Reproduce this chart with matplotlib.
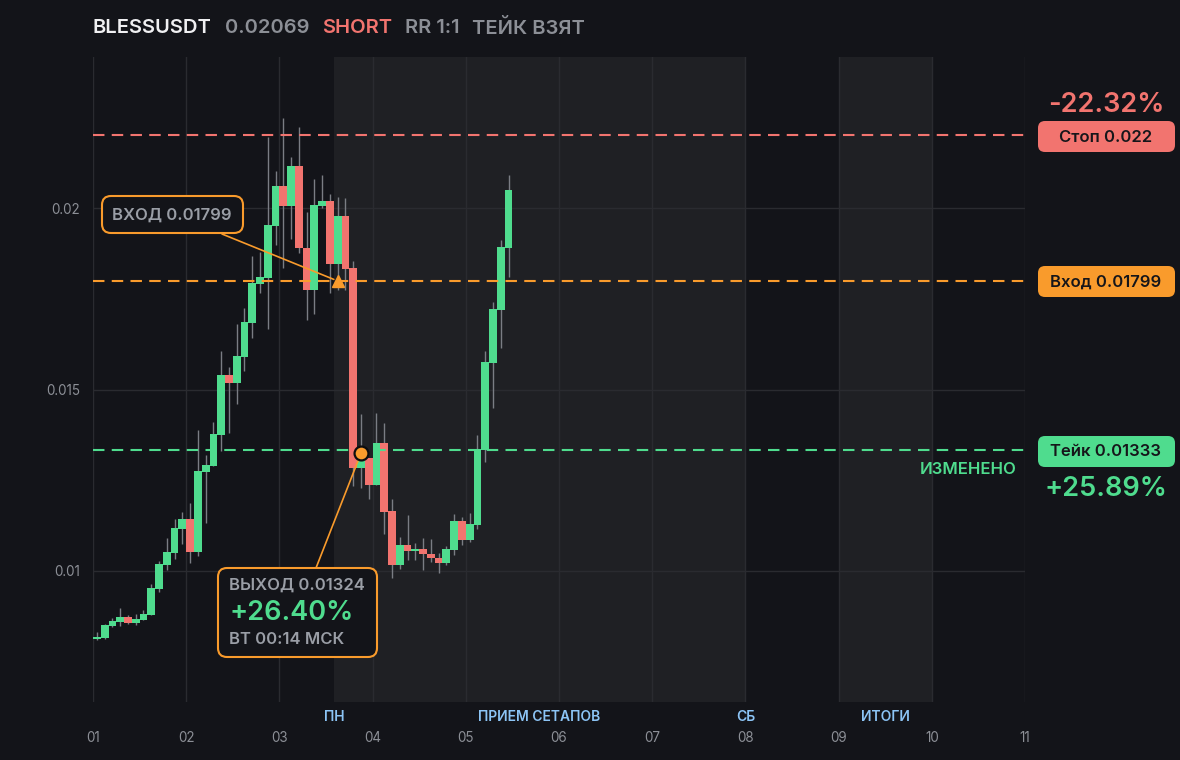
import numpy as np
import matplotlib.pyplot as plt
import matplotlib.transforms as mtransforms
from matplotlib.patches import FancyBboxPatch

plt.rcParams['font.family'] = ['Inter', 'DejaVu Sans']

# 2h candles, 12 per day, first day = 01
opens = [0.00813, 0.00815, 0.00849, 0.00860, 0.00873, 0.00858, 0.00866, 0.00880, 0.00951, 0.01017,
         0.01050, 0.01117, 0.01143, 0.01053, 0.01274, 0.01290, 0.01375, 0.01540, 0.01519, 0.01590,
         0.01684, 0.01792, 0.01808, 0.01951, 0.02061, 0.02006, 0.02116, 0.01891, 0.01775, 0.02006,
         0.02019, 0.01847, 0.01978, 0.01835, 0.01285, 0.01311, 0.01238, 0.01353, 0.01165, 0.01017,
         0.01072, 0.01056, 0.01061, 0.01048, 0.01037, 0.01023, 0.01059, 0.01138, 0.01086, 0.01128,
         0.01334, 0.01574, 0.01720, 0.01891]
highs = [0.00832, 0.00854, 0.00871, 0.00898, 0.00879, 0.00882, 0.00893, 0.00964, 0.01028, 0.01091,
         0.01143, 0.01163, 0.01187, 0.01388, 0.01320, 0.01411, 0.01607, 0.01563, 0.01680, 0.01725,
         0.01868, 0.01879, 0.02196, 0.02102, 0.02248, 0.02140, 0.02223, 0.01989, 0.02080, 0.02091,
         0.02039, 0.02030, 0.02028, 0.01854, 0.01433, 0.01311, 0.01435, 0.01408, 0.01199, 0.01095,
         0.01154, 0.01078, 0.01091, 0.01088, 0.01050, 0.01069, 0.01157, 0.01149, 0.01160, 0.01375,
         0.01607, 0.01741, 0.01912, 0.02091]
lows = [0.00810, 0.00813, 0.00846, 0.00849, 0.00855, 0.00852, 0.00864, 0.00880, 0.00943, 0.01004,
        0.01034, 0.01075, 0.01023, 0.01042, 0.01133, 0.01290, 0.01331, 0.01379, 0.01460, 0.01552,
        0.01643, 0.01767, 0.01668, 0.01898, 0.01836, 0.01915, 0.01877, 0.01691, 0.01709, 0.02000,
        0.01767, 0.01774, 0.01774, 0.01234, 0.01229, 0.01199, 0.01238, 0.01103, 0.00982, 0.01006,
        0.01031, 0.01031, 0.01004, 0.01026, 0.00995, 0.01017, 0.01045, 0.01072, 0.01081, 0.01117,
        0.01301, 0.01450, 0.01615, 0.01811]
closes = [0.00818, 0.00851, 0.00862, 0.00873, 0.00858, 0.00868, 0.00882, 0.00953, 0.01019, 0.01052,
          0.01118, 0.01143, 0.01053, 0.01276, 0.01292, 0.01377, 0.01540, 0.01519, 0.01592, 0.01686,
          0.01794, 0.01810, 0.01953, 0.02061, 0.02006, 0.02116, 0.01891, 0.01775, 0.02008, 0.02019,
          0.01847, 0.01978, 0.01833, 0.01285, 0.01311, 0.01238, 0.01353, 0.01163, 0.01017, 0.01072,
          0.01056, 0.01061, 0.01048, 0.01037, 0.01023, 0.01061, 0.01138, 0.01086, 0.01130, 0.01336,
          0.01576, 0.01722, 0.01893, 0.02050]

day_ticks = [1, 2, 3, 4, 5, 6, 7, 8, 9, 10, 11]
day_labels = ['01', '02', '03', '04', '05', '06', '07', '08', '09', '10', '11']
sessions = [(3 + 7 / 12, 8), (9, 10)]
session_labels = [('ПН', 3 + 7 / 12), ('ПРИЕМ СЕТАПОВ', 5.79), ('СБ', 8), ('ИТОГИ', 9.5)]

stop = 0.022
entry = 0.01799
take = 0.01333
exit_price = 0.01324
entry_x = 1 + 31.5 / 12
exit_x = 1 + 34.5 / 12

bg = '#131419'
shade = '#1f2024'
grid = '#2a2b30'
green = '#4fdc8e'
red = '#f2746f'
orange = '#f99b2c'
gray = '#8c8f96'

fig = plt.figure(figsize=(11.8, 7.6), dpi=100, facecolor=bg)
ax = fig.add_axes([93 / 1180, 58 / 760, 932 / 1180, 645 / 760])
ax.set_facecolor(bg)
# pixel coords, origin top-left
pix = mtransforms.Affine2D().scale(1 / 100, -1 / 100).translate(0, 7.6) + fig.dpi_scale_trans

ax.set_xlim(1, 11)
ax.set_ylim(0.006391, 0.02416)
for s in ax.spines.values():
    s.set_visible(False)

for a, b in sessions:
    ax.axvspan(a, b, color=shade, lw=0, zorder=0)

ax.set_yticks([0.01, 0.015, 0.02])
ax.set_yticklabels(['0.01', '0.015', '0.02'])
ax.set_xticks(day_ticks)
ax.set_xticklabels(day_labels)
ax.tick_params(axis='y', length=0, pad=9.4, labelcolor=gray, labelsize=9.7)
ax.tick_params(axis='x', length=0, pad=21, labelcolor=gray, labelsize=9.7)
ax.grid(True, color=grid, lw=1, zorder=0.5)
ax.set_axisbelow(True)

tr = mtransforms.blended_transform_factory(ax.transData, pix)
for lab, xv in session_labels:
    ax.text(xv, 717, lab, transform=tr, ha='center', va='center', color='#8cc4f5',
            fontsize=10, fontweight='semibold', clip_on=False)

o = np.array(opens)
h = np.array(highs)
l = np.array(lows)
c = np.array(closes)
xs = 1 + (np.arange(len(o)) + 0.5) / 12
cols = [green if cc >= oo else red for oo, cc in zip(o, c)]
ax.vlines(xs, l, h, color='#7a7d84', lw=1, zorder=2)
ax.bar(xs, np.abs(c - o), bottom=np.minimum(o, c), width=1 / 12, color=cols, lw=0, zorder=3)

dash = (0, (5.5, 3.5))
ax.axhline(stop, color=red, ls=dash, lw=1.5, zorder=4)
ax.axhline(entry, color=orange, ls=dash, lw=1.5, zorder=4)
ax.axhline(take, color=green, ls=dash, lw=1.5, zorder=4)

ax.plot(entry_x, entry, marker='^', ms=9, color=orange, zorder=7)
ax.plot(exit_x, exit_price, marker='o', ms=10, mfc=orange, mec='#0d0d0f', mew=1.6, zorder=7)

ax.annotate('', xy=(entry_x, entry), xytext=(222, 234), textcoords=pix,
            arrowprops=dict(arrowstyle='-', color=orange, lw=1.2, shrinkA=0, shrinkB=3), zorder=6)
ax.annotate('', xy=(exit_x, exit_price), xytext=(316, 568), textcoords=pix,
            arrowprops=dict(arrowstyle='-', color=orange, lw=1.2, shrinkA=0, shrinkB=5), zorder=6)

# title line
title_parts = [('BLESSUSDT', 93, '#f0f0f2'), ('0.02069', 225, gray), ('SHORT', 322, red),
               ('RR 1:1', 405, gray), ('ТЕЙК ВЗЯТ', 472, gray)]
for txt, xp, col in title_parts:
    fig.text(xp, 28, txt, transform=pix, ha='left', va='center', color=col,
             fontsize=14.5, fontweight='semibold')

# entry callout
fig.add_artist(FancyBboxPatch((102, 196), 141, 37, boxstyle='round,pad=0,rounding_size=9',
                              transform=pix, fc=bg, ec=orange, lw=1.5, zorder=5))
fig.text(112, 215, 'ВХОД 0.01799', transform=pix, ha='left', va='center', color='#9a9ea6',
         fontsize=12, fontweight='semibold', zorder=6)

# exit callout
fig.add_artist(FancyBboxPatch((218, 568), 159, 89, boxstyle='round,pad=0,rounding_size=9',
                              transform=pix, fc=bg, ec=orange, lw=1.5, zorder=5))
fig.text(229, 585, 'ВЫХОД 0.01324', transform=pix, ha='left', va='center', color='#9a9ea6',
         fontsize=12, fontweight='semibold', zorder=6)
fig.text(229, 613, '+26.40%', transform=pix, ha='left', va='center', color=green,
         fontsize=19.5, fontweight='semibold', zorder=6)
fig.text(229, 639, 'ВТ 00:14 МСК', transform=pix, ha='left', va='center', color='#9a9ea6',
         fontsize=12, fontweight='semibold', zorder=6)

# right side level tags
tags = [('Стоп 0.022', 121, red), ('Вход 0.01799', 266, orange), ('Тейк 0.01333', 436, green)]
for txt, yp, col in tags:
    fig.add_artist(FancyBboxPatch((1038, yp), 137, 31, boxstyle='round,pad=0,rounding_size=7',
                                  transform=pix, fc=col, ec='none', zorder=5))
    fig.text(1106, yp + 16, txt, transform=pix, ha='center', va='center', color='#16161a',
             fontsize=12, fontweight='semibold', zorder=6)

fig.text(1106, 105, '-22.32%', transform=pix, ha='center', va='center', color=red,
         fontsize=19.5, fontweight='semibold')
fig.text(1106, 489, '+25.89%', transform=pix, ha='center', va='center', color=green,
         fontsize=19.5, fontweight='semibold')
fig.text(1017, 470, 'ИЗМЕНЕНО', transform=pix, ha='right', va='center', color=green,
         fontsize=12, fontweight='semibold')

fig.savefig('out.png', dpi=100, facecolor=bg)
